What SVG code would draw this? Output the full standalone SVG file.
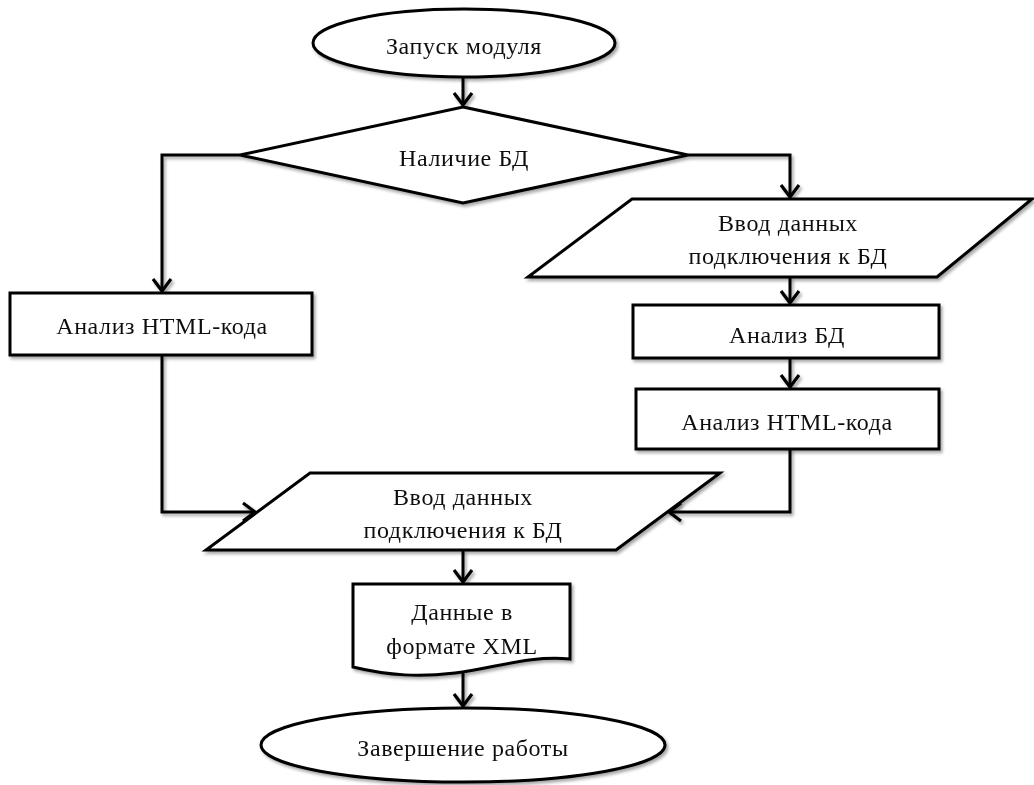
<svg xmlns="http://www.w3.org/2000/svg" width="1034" height="785" viewBox="0 0 1034 785">
  <defs>
    <filter id="sh" x="-5%" y="-5%" width="110%" height="120%">
      <feDropShadow dx="2" dy="2.5" stdDeviation="1.5" flood-color="#000" flood-opacity="0.35"/>
    </filter>
    <marker id="arr" markerUnits="userSpaceOnUse" viewBox="-14 -11 16 22" markerWidth="16" markerHeight="22" refX="0" refY="0" orient="auto">
      <path d="M-12,-9 L0,0 L-12,9" fill="none" stroke="#000" stroke-width="3.2" stroke-linejoin="miter"/>
    </marker>
    <style>
      .shape { fill: #fff; stroke: #000; stroke-width: 3; }
      .line { fill: none; stroke: #000; stroke-width: 3; }
      text { font-family: "Liberation Serif", "Times New Roman", serif; font-size: 24px; fill: #111; text-anchor: middle; dominant-baseline: central; letter-spacing: 0.6px; }
    </style>
  </defs>
  <rect width="1034" height="785" fill="#fff"/>

  <g id="connectors" filter="url(#sh)">
    <path class="line" d="M463,77 V105" marker-end="url(#arr)"/>
    <path class="line" d="M240,155 H162 V291" marker-end="url(#arr)"/>
    <path class="line" d="M688,155 H790 V197" marker-end="url(#arr)"/>
    <path class="line" d="M790,277 V303" marker-end="url(#arr)"/>
    <path class="line" d="M790,358 V387" marker-end="url(#arr)"/>
    <path class="line" d="M162,355 V512 H255" marker-end="url(#arr)"/>
    <path class="line" d="M790,449 V512 H669" marker-end="url(#arr)"/>
    <path class="line" d="M463,550 V582" marker-end="url(#arr)"/>
    <path class="line" d="M463,672 V706" marker-end="url(#arr)"/>
  </g>

  <g id="start" filter="url(#sh)">
    <ellipse class="shape" cx="464" cy="43" rx="151" ry="34"/>
    <text x="464" y="46">Запуск модуля</text>
  </g>

  <g id="decision" filter="url(#sh)">
    <polygon class="shape" points="463,107 688,155 463,203 240,155"/>
    <text x="464" y="158">Наличие БД</text>
  </g>

  <g id="input-top" filter="url(#sh)">
    <polygon class="shape" points="632,199 1032,199 937,277 528,277"/>
    <text x="788" y="223">Ввод данных</text>
    <text x="788" y="256">подключения к БД</text>
  </g>

  <g id="analyze-html-left" filter="url(#sh)">
    <rect class="shape" x="10" y="293" width="302" height="62"/>
    <text x="162" y="326">Анализ HTML-кода</text>
  </g>

  <g id="analyze-db" filter="url(#sh)">
    <rect class="shape" x="633" y="305" width="306" height="53"/>
    <text x="787" y="335">Анализ БД</text>
  </g>

  <g id="analyze-html-right" filter="url(#sh)">
    <rect class="shape" x="636" y="389" width="303" height="60"/>
    <text x="787" y="422">Анализ HTML-кода</text>
  </g>

  <g id="input-bottom" filter="url(#sh)">
    <polygon class="shape" points="310,473 720,473 616,550 206,550"/>
    <text x="463" y="497">Ввод данных</text>
    <text x="463" y="530">подключения к БД</text>
  </g>

  <g id="document" filter="url(#sh)">
    <path class="shape" d="M353,584 L570,584 L570,659 C530,655 495,668 455,673 C420,677 390,676 353,667 Z"/>
    <text x="462" y="612">Данные в</text>
    <text x="462" y="646">формате XML</text>
  </g>

  <g id="end" filter="url(#sh)">
    <ellipse class="shape" cx="463" cy="745" rx="202" ry="37"/>
    <text x="463" y="748">Завершение работы</text>
  </g>
</svg>
